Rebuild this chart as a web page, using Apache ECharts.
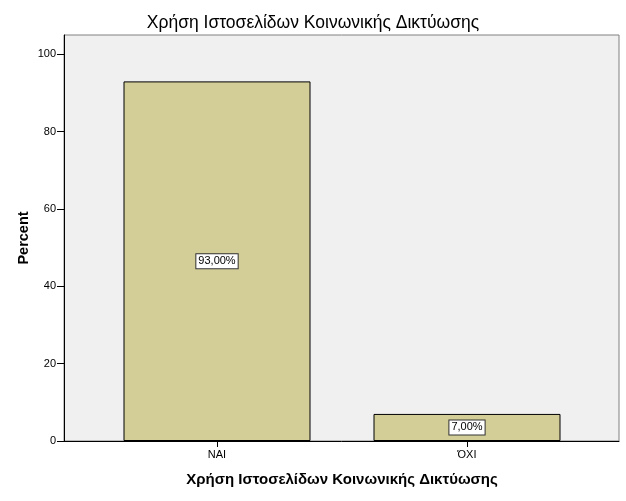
<!DOCTYPE html>
<html>
<head>
<meta charset="utf-8">
<script src="https://cdn.jsdelivr.net/npm/echarts@6/dist/echarts.min.js"></script>
<style>
html,body{margin:0;padding:0;background:#fff;}
#c{width:626px;height:501px;}
</style>
</head>
<body>
<div id="c"></div>
<script>
const titleText = 'Χρήση Ιστοσελίδων Κοινωνικής Δικτύωσης';
const categories = ['ΝΑΙ', 'ΌΧΙ'];
const percentValues = [93.0, 7.0];
const yTicks = [0, 20, 40, 60, 80, 100];
const yMax = 105;

const font = '"Liberation Sans", Arial, sans-serif';
const chart = echarts.init(document.getElementById('c'), null, {renderer: 'canvas'});
chart.setOption({
  animation: false,
  backgroundColor: '#ffffff',
  textStyle: {fontFamily: font},
  title: {
    text: titleText,
    left: 'center',
    top: 9,
    textStyle: {fontFamily: font, fontSize: 17.5, fontWeight: 'normal', color: '#000'}
  },
  grid: [
    {left: 64, right: 7, top: 35, bottom: 60, show: true, backgroundColor: '#f0f0f0', borderColor: '#808080', borderWidth: 1, containLabel: false},
    {left: 92, width: 500, top: 35, bottom: 60, containLabel: false}
  ],
  xAxis: [
    {gridIndex: 0, type: 'value', min: 0, max: 1, axisLine: {show: true, onZero: false, lineStyle: {color: '#000', width: 1}}, axisTick: {show: false}, axisLabel: {show: false}, splitLine: {show: false}},
    {gridIndex: 1, type: 'category', data: categories, boundaryGap: true,
     axisLine: {show: false}, axisTick: {show: true, alignWithLabel: true, length: 6, lineStyle: {color: '#000'}},
     axisLabel: {fontFamily: font, fontSize: 11, color: '#000', margin: 8},
     name: titleText, nameLocation: 'middle', nameGap: 31,
     nameTextStyle: {fontFamily: font, fontSize: 15, fontWeight: 'bold', color: '#000'}}
  ],
  yAxis: [
    {gridIndex: 0, type: 'value', min: 0, max: yMax, interval: 20,
     axisLine: {show: true, lineStyle: {color: '#000', width: 1}},
     axisTick: {show: true, length: 7, lineStyle: {color: '#000'}, customValues: yTicks},
     axisLabel: {fontFamily: font, fontSize: 11, color: '#000', margin: 8, customValues: yTicks},
     splitLine: {show: false},
     name: 'Percent', nameLocation: 'middle', nameGap: 33, nameRotate: 90, nameMoveOverlap: false,
     nameTextStyle: {fontFamily: font, fontSize: 14.5, fontWeight: 'bold', color: '#000'}},
    {gridIndex: 1, type: 'value', min: 0, max: yMax, show: false, splitLine: {show: false}}
  ],
  series: [{
    type: 'bar',
    xAxisIndex: 1,
    yAxisIndex: 1,
    data: percentValues,
    barWidth: 187,
    itemStyle: {color: '#d3ce97', borderColor: '#000', borderWidth: 1},
    label: {
      show: true,
      position: 'inside',
      formatter: p => p.value.toFixed(2).replace('.', ',') + '%',
      fontFamily: font, fontSize: 11, color: '#000',
      backgroundColor: '#fff', borderColor: '#333', borderWidth: 1,
      padding: [2, 2, 1, 2]
    }
  }]
});
</script>
</body>
</html>
